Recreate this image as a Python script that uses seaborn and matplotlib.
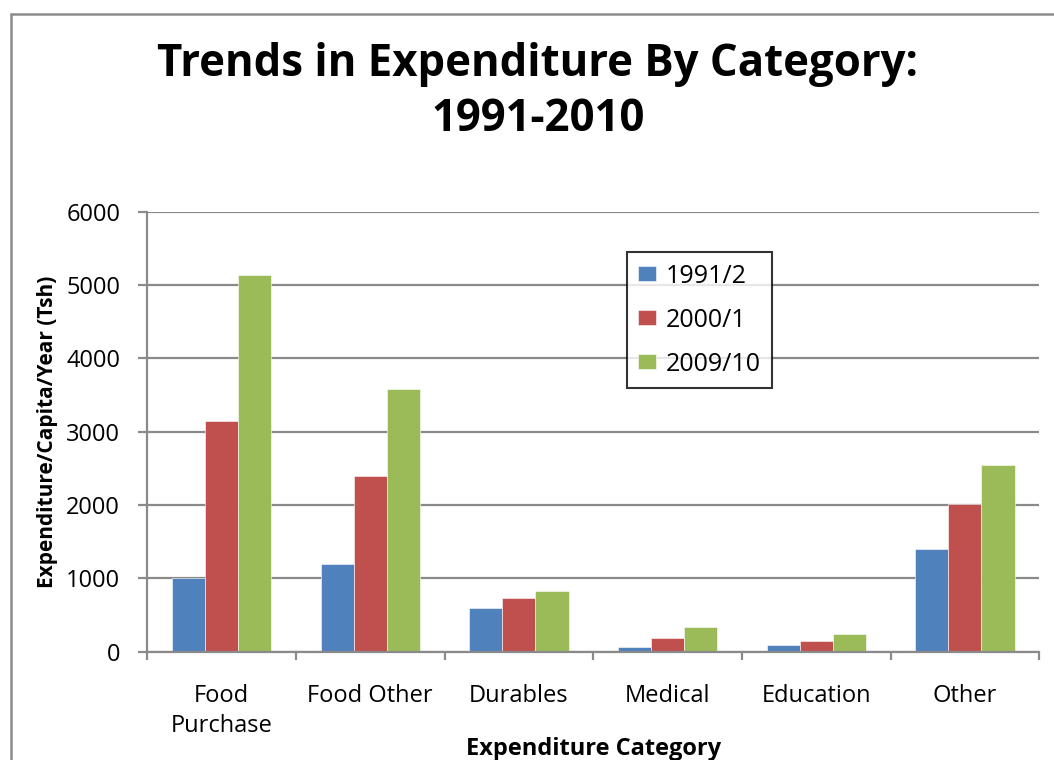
import matplotlib
matplotlib.use("Agg")
import matplotlib.pyplot as plt
from matplotlib.lines import Line2D
import seaborn as sns
import pandas as pd
import numpy as np

categories = ["Food\nPurchase", "Food Other", "Durables", "Medical", "Education", "Other"]
periods = ["1991/2", "2000/1", "2009/10"]
values_1991 = [1010, 1190, 600, 60, 90, 1400]
values_2000 = [3140, 2390, 730, 190, 140, 2010]
values_2009 = [5140, 3580, 830, 340, 240, 2550]
colors = ["#4F81BD", "#C0504D", "#9BBB59"]
y_ticks = [0, 1000, 2000, 3000, 4000, 5000, 6000]

rows = []
for period, vals in zip(periods, [values_1991, values_2000, values_2009]):
    for cat, v in zip(categories, vals):
        rows.append({"Category": cat, "Period": period, "Value": v})
df = pd.DataFrame(rows)

sns.set_theme(style="white")
plt.rcParams["font.family"] = ["Open Sans", "DejaVu Sans"]
plt.rcParams["text.color"] = "black"
plt.rcParams["axes.labelcolor"] = "black"

W, H = 1054, 760
fig = plt.figure(figsize=(W / 100, H / 100), dpi=100)
ax = fig.add_axes([147.3 / W, 1 - 651.7 / H, 892 / W, 440 / H])

grid_col = "#8a8a8a"
ax.set_axisbelow(True)
ax.yaxis.grid(True, color=grid_col, linewidth=1.6)

sns.barplot(data=df, x="Category", y="Value", hue="Period", order=categories,
            hue_order=periods, palette=colors, width=0.667, saturation=1,
            edgecolor="white", linewidth=0.4, ax=ax)

ax.set_ylim(0, 6000)
ax.set_xlim(-0.5, len(categories) - 0.5)
ax.set_yticks(y_ticks)
ax.set_yticklabels([str(t) for t in y_ticks])

for side in ["top", "right"]:
    ax.spines[side].set_visible(False)
for side in ["left", "bottom"]:
    ax.spines[side].set_color(grid_col)
    ax.spines[side].set_linewidth(1.6)

ax.tick_params(axis="y", which="major", direction="out", length=6.5, width=1.6,
               color=grid_col, pad=13, labelsize=17, labelcolor="black", left=True)
ax.set_xticks(np.arange(-0.5, len(categories), 1.0), minor=True)
ax.tick_params(axis="x", which="minor", direction="out", length=5.5, width=1.6,
               color=grid_col, bottom=True)
ax.tick_params(axis="x", which="major", length=0, pad=23.5, labelsize=17,
               labelcolor="black")
for lbl in ax.get_xticklabels():
    lbl.set_linespacing(1.3)
    lbl.set_verticalalignment("top")

ax.set_xlabel("Expenditure Category", fontsize=17, fontweight="bold")
ax.xaxis.label.set_verticalalignment("baseline")
ax.xaxis.set_label_coords(0.5, (651.7 - 755) / 440)
ax.set_ylabel("Expenditure/Capita/Year (Tsh)", fontsize=15, fontweight="bold")
ax.yaxis.label.set_verticalalignment("baseline")
ax.yaxis.set_label_coords((53 - 147.3) / 892, 0.5)

leg = ax.legend(loc="upper left", bbox_to_anchor=((626.7 - 147.3) / 892, (651.7 - 252.3) / 440),
                frameon=True, fancybox=False, edgecolor="black", fontsize=18,
                handlelength=0.72, handleheight=0.53, labelspacing=0.76,
                borderpad=0.45, borderaxespad=0, handletextpad=0.4)
leg.get_frame().set_linewidth(1.5)
leg.set_title(None)

title_x = 538 / W
fig.text(title_x, 1 - 76 / H, "Trends in Expenditure By Category:",
         ha="center", va="baseline", fontsize=31.5, fontweight="bold")
fig.text(title_x, 1 - 131 / H, "1991-2010",
         ha="center", va="baseline", fontsize=31.5, fontweight="bold")

# chart area border
border = "#8c8c8c"
fig.add_artist(Line2D([11 / W, 11 / W], [0, 1 - 14 / H], color=border, linewidth=1.8,
                      transform=fig.transFigure))
fig.add_artist(Line2D([11 / W, 1.0], [1 - 14 / H, 1 - 14 / H], color=border,
                      linewidth=1.8, transform=fig.transFigure))

fig.savefig("out.png", dpi=100)
